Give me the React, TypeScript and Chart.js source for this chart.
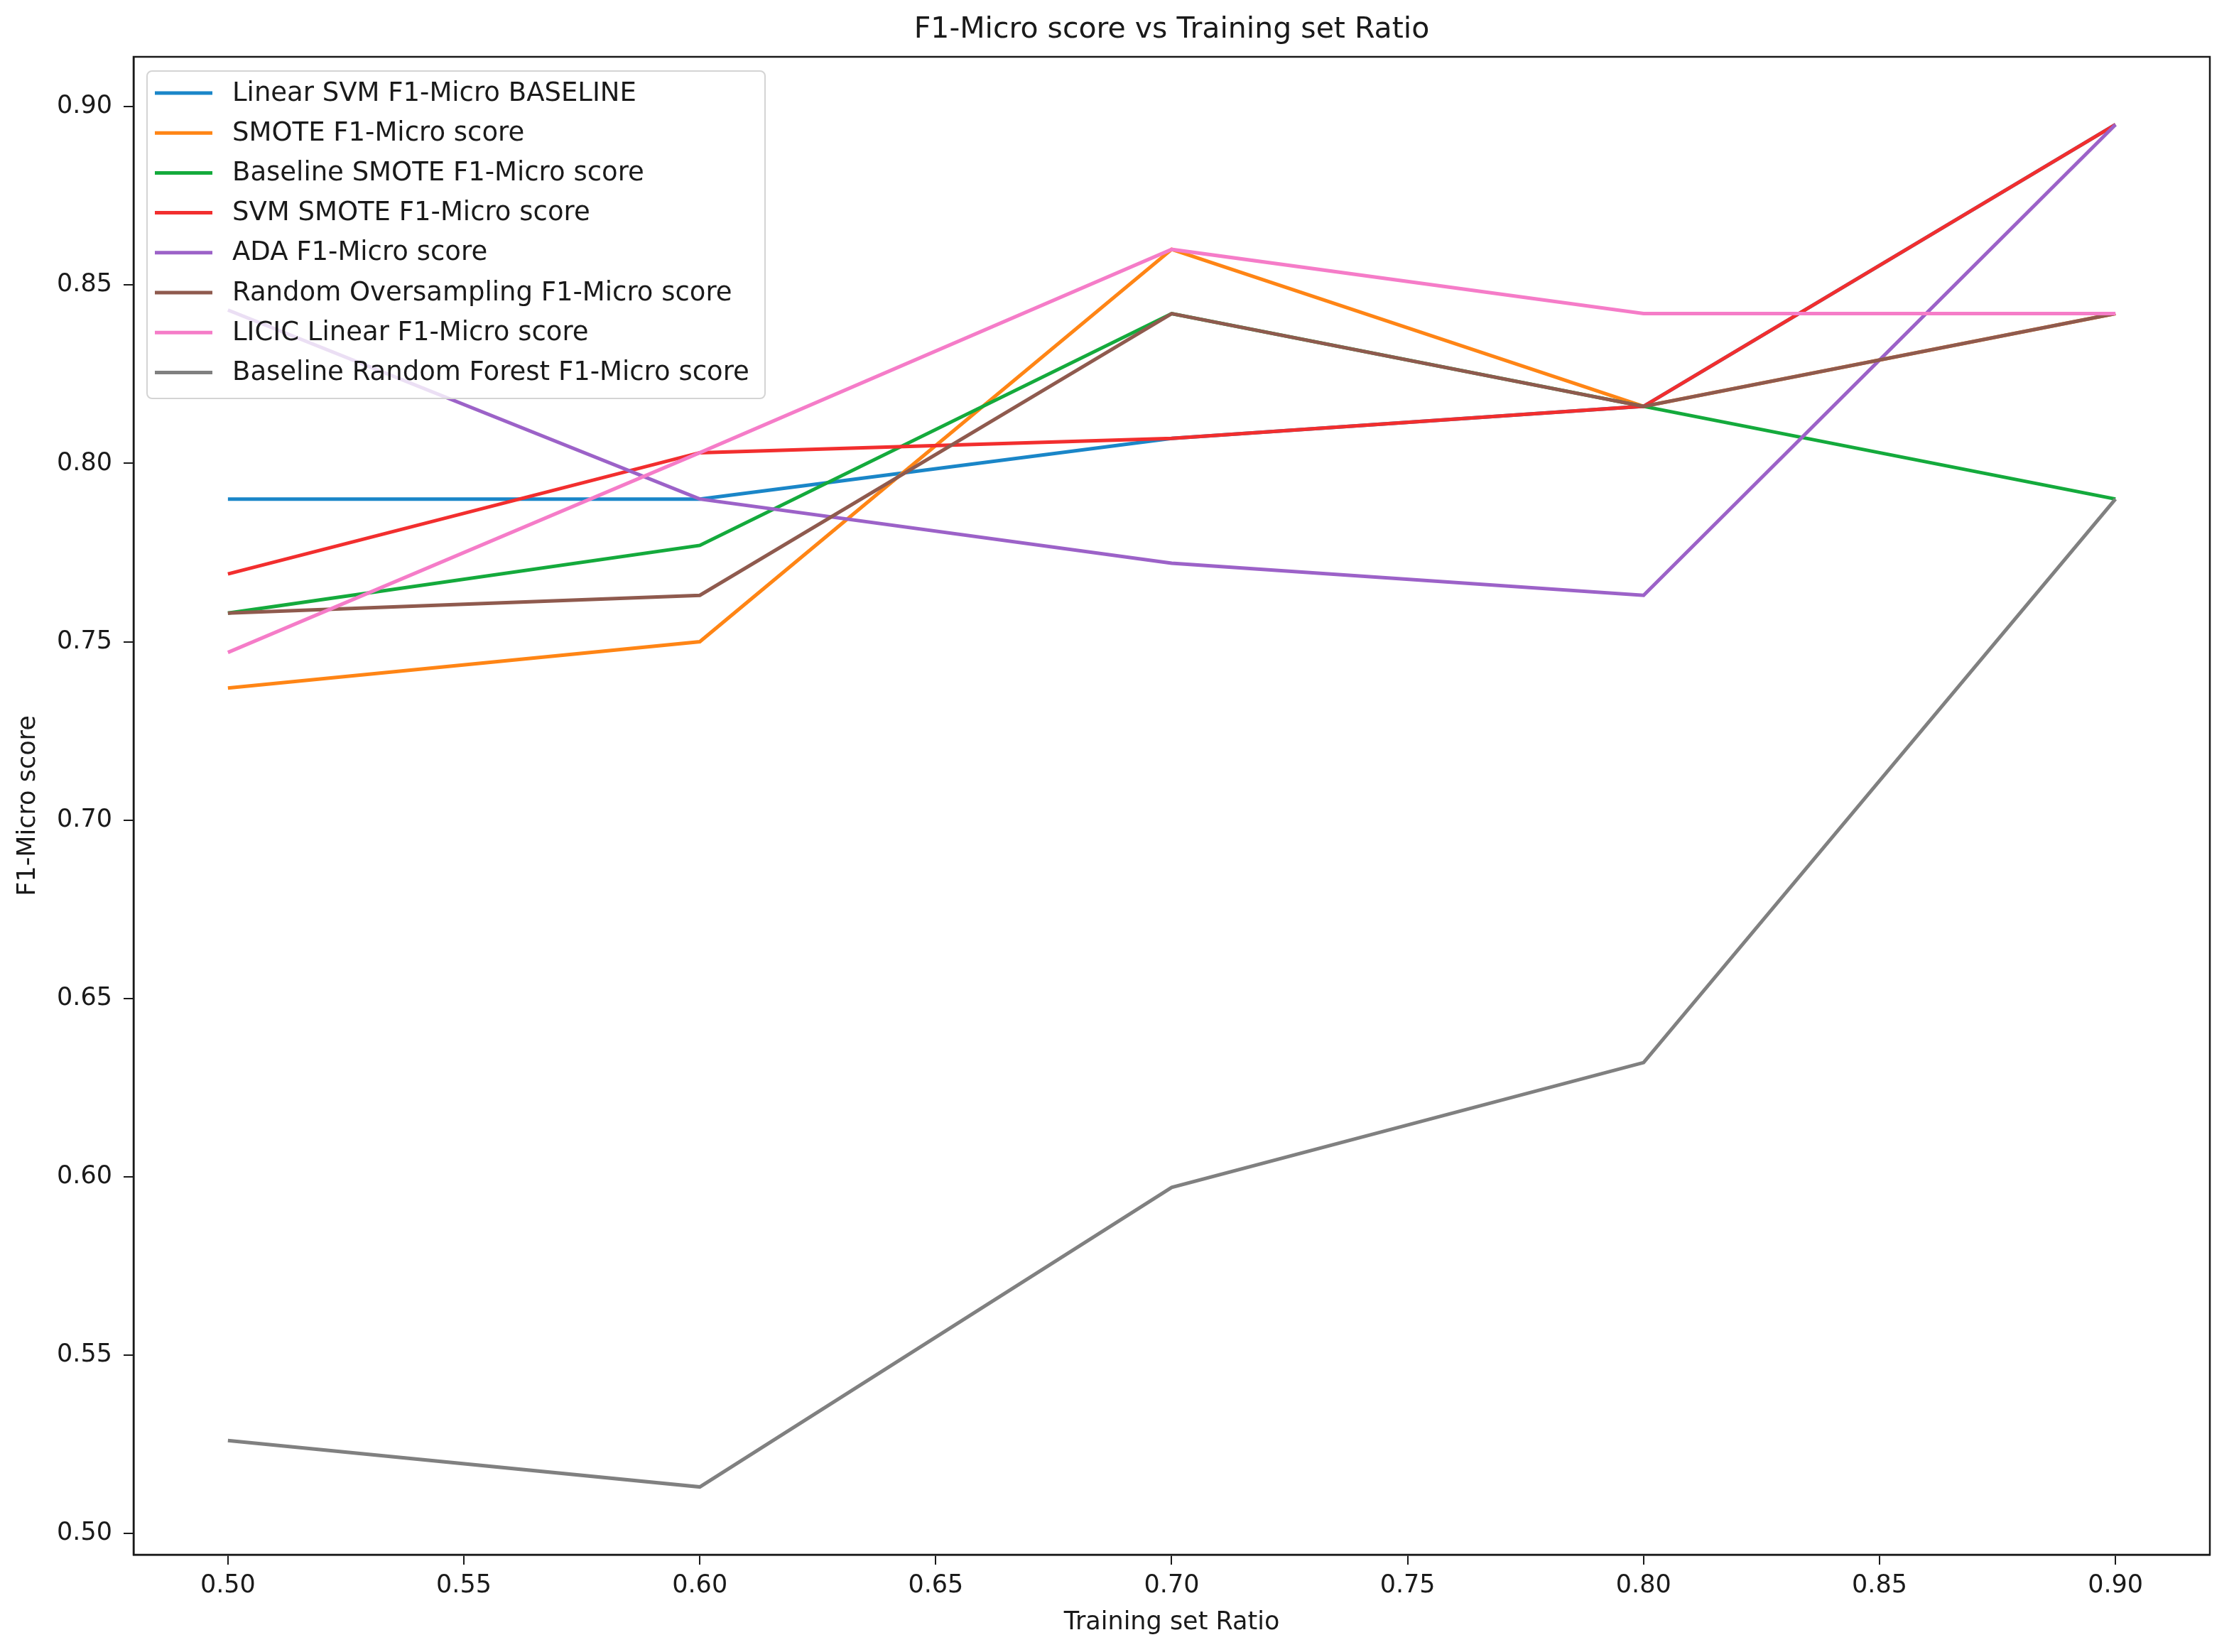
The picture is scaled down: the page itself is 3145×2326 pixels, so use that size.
import React, { useEffect, useRef } from 'react';
import { Chart, registerables, ChartConfiguration, Plugin } from 'chart.js';

Chart.register(...registerables);

// training set ratios (x)
const ratios = [0.5, 0.6, 0.7, 0.8, 0.9];

// F1-micro scores per method
const linearSvm = [0.790, 0.790, 0.807, 0.816, 0.895];
const smote = [0.737, 0.750, 0.860, 0.816, 0.842];
const baselineSmote = [0.758, 0.777, 0.842, 0.816, 0.790];
const svmSmote = [0.769, 0.803, 0.807, 0.816, 0.895];
const ada = [0.843, 0.790, 0.772, 0.763, 0.895];
const randomOversampling = [0.758, 0.763, 0.842, 0.816, 0.842];
const licicLinear = [0.747, 0.803, 0.860, 0.842, 0.842];
const baselineRandomForest = [0.526, 0.513, 0.597, 0.632, 0.790];

const seriesLabels = [
  'Linear SVM F1-Micro BASELINE',
  'SMOTE F1-Micro score',
  'Baseline SMOTE F1-Micro score',
  'SVM SMOTE F1-Micro score',
  'ADA F1-Micro score',
  'Random Oversampling F1-Micro score',
  'LICIC Linear F1-Micro score',
  'Baseline Random Forest F1-Micro score',
];
const seriesValues = [
  linearSvm, smote, baselineSmote, svmSmote, ada, randomOversampling, licicLinear, baselineRandomForest,
];
const seriesColors = [
  '#1a86c8', '#ff8515', '#14aa3c', '#f22e2e', '#9c62c8', '#8f5a4e', '#f57cc8', '#808080',
];

const xTicks = [0.5, 0.55, 0.6, 0.65, 0.7, 0.75, 0.8, 0.85, 0.9];
const yTicks = [0.5, 0.55, 0.6, 0.65, 0.7, 0.75, 0.8, 0.85, 0.9];

const FONT = "'DejaVu Sans', sans-serif";
const INK = '#1a1a1a';

// matplotlib-like frame, centred title and boxed legend
const framePlugin: Plugin<'line'> = {
  id: 'frame',
  afterDraw(chart) {
    const { ctx, chartArea: a } = chart;
    ctx.save();
    ctx.strokeStyle = INK;
    ctx.lineWidth = 2.5;
    ctx.strokeRect(a.left, a.top, a.right - a.left, a.bottom - a.top);

    ctx.fillStyle = INK;
    ctx.font = `41px ${FONT}`;
    ctx.textAlign = 'center';
    ctx.textBaseline = 'middle';
    ctx.fillText('F1-Micro score vs Training set Ratio', (a.left + a.right) / 2, 42);

    // legend
    const bx = a.left + 19;
    const by = a.top + 20;
    const bw = 870;
    const bh = 461;
    ctx.beginPath();
    ctx.roundRect(bx, by, bw, bh, 7);
    ctx.fillStyle = 'rgba(255,255,255,0.8)';
    ctx.fill();
    ctx.strokeStyle = '#d4d4d4';
    ctx.lineWidth = 2;
    ctx.stroke();

    ctx.font = `37px ${FONT}`;
    ctx.textAlign = 'left';
    chart.data.datasets.forEach((ds, i) => {
      const y = by + 31 + i * 56.2;
      ctx.strokeStyle = ds.borderColor as string;
      ctx.lineWidth = 5;
      ctx.beginPath();
      ctx.moveTo(bx + 11, y);
      ctx.lineTo(bx + 92, y);
      ctx.stroke();
      ctx.fillStyle = INK;
      ctx.fillText(ds.label as string, bx + 120, y + 1);
    });
    ctx.restore();
  },
};

export default function App() {
  const canvasRef = useRef<HTMLCanvasElement | null>(null);

  useEffect(() => {
    if (!canvasRef.current) return;
    const n = seriesLabels.length;

    const config: ChartConfiguration<'line'> = {
      type: 'line',
      data: {
        datasets: seriesLabels.map((label, i) => ({
          label,
          data: ratios.map((r, j) => ({ x: r, y: seriesValues[i][j] })),
          borderColor: seriesColors[i],
          backgroundColor: seriesColors[i],
          borderWidth: 5,
          pointRadius: 0,
          tension: 0,
          fill: false,
          order: n - 1 - i,
        })),
      },
      options: {
        animation: false,
        responsive: true,
        maintainAspectRatio: false,
        devicePixelRatio: 1,
        layout: { padding: { top: 80, right: 34, bottom: 0, left: 0 } },
        plugins: {
          legend: { display: false },
          title: { display: false },
          tooltip: { enabled: false },
        },
        scales: {
          x: {
            type: 'linear',
            min: 0.48,
            max: 0.92,
            afterBuildTicks: (scale) => {
              scale.ticks = xTicks.map((v) => ({ value: v }));
            },
            afterFit: (scale) => {
              scale.height = 137;
            },
            ticks: {
              color: INK,
              font: { family: FONT, size: 35 },
              padding: 9,
              maxRotation: 0,
              callback: (v) => Number(v).toFixed(2),
            },
            grid: { drawOnChartArea: false, drawTicks: true, tickLength: 14, color: INK, lineWidth: 2 },
            border: { display: true, color: INK, width: 2.5 },
            title: {
              display: true,
              text: 'Training set Ratio',
              color: INK,
              font: { family: FONT, size: 35 },
              padding: { top: 0, bottom: 20 },
            },
          },
          y: {
            type: 'linear',
            min: 0.494,
            max: 0.914,
            afterBuildTicks: (scale) => {
              scale.ticks = yTicks.map((v) => ({ value: v }));
            },
            afterFit: (scale) => {
              scale.width = 188;
            },
            ticks: {
              color: INK,
              font: { family: FONT, size: 35 },
              padding: 16,
              callback: (v) => Number(v).toFixed(2),
            },
            grid: { drawOnChartArea: false, drawTicks: true, tickLength: 14, color: INK, lineWidth: 2 },
            border: { display: true, color: INK, width: 2.5 },
            title: {
              display: true,
              text: 'F1-Micro score',
              color: INK,
              font: { family: FONT, size: 35 },
              padding: { top: 19, bottom: 0 },
            },
          },
        },
      },
      plugins: [framePlugin],
    };

    const chart = new Chart(canvasRef.current, config);
    return () => chart.destroy();
  }, []);

  return (
    <div style={{ position: 'absolute', left: 0, top: 0, width: 3145, height: 2326, background: '#fff' }}>
      <canvas ref={canvasRef} />
    </div>
  );
}
